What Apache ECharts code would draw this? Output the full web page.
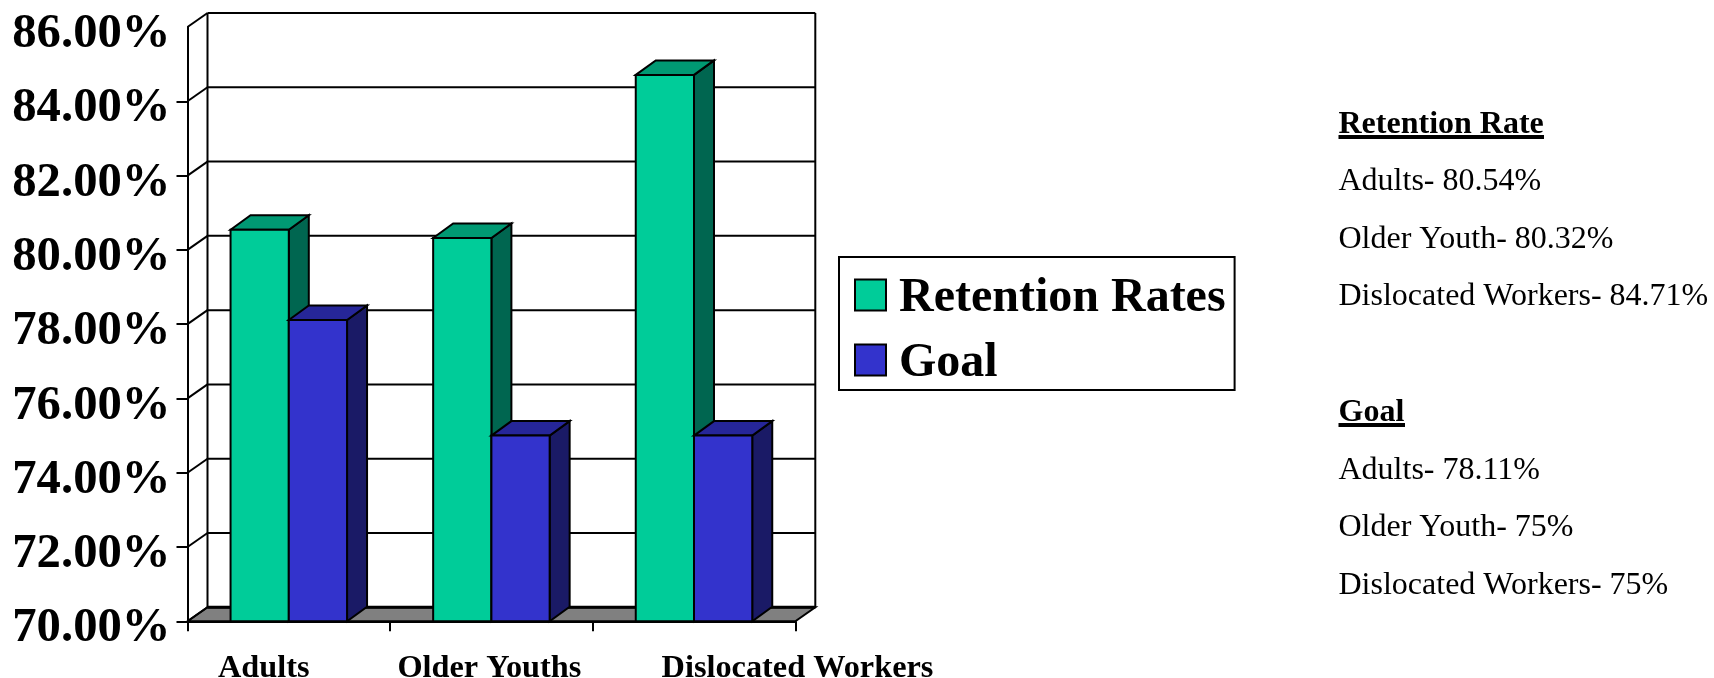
<!DOCTYPE html>
<html><head><meta charset="utf-8">
<style>html,body{margin:0;padding:0;background:#fff}#c{width:1714px;height:678px}</style>
<script src="https://cdn.jsdelivr.net/npm/echarts@6/dist/echarts.min.js"></script>
</head><body><div id="c"></div>
<script>
const categories = ['Adults', 'Older Youths', 'Dislocated Workers'];
const retentionRates = [80.54, 80.32, 84.71];
const goal = [78.11, 75, 75];
const yTicks = [70, 72, 74, 76, 78, 80, 82, 84, 86];
const retentionNotes = ['Adults- 80.54%', 'Older Youth- 80.32%', 'Dislocated Workers- 84.71%'];
const goalNotes = ['Adults- 78.11%', 'Older Youth- 75%', 'Dislocated Workers- 75%'];

const FONT = '"Liberation Serif", "Times New Roman", serif';
const DX = 20, DY = 14.5, WALL_DY = 14, LW = 2;
const BLACK = '#000';

function poly(points, fill) {
  return { type: 'polygon', shape: { points }, style: { fill, stroke: BLACK, lineWidth: LW, lineJoin: 'miter' } };
}
function line(x1, y1, x2, y2, w) {
  return { type: 'line', shape: { x1, y1, x2, y2 }, style: { stroke: BLACK, lineWidth: w || LW } };
}
function barRenderer(side, front, sideFill, topFill) {
  return function (params, api) {
    const i = api.value(0), v = api.value(1);
    const top = api.coord([i, v]), base = api.coord([i, yTicks[0]]);
    const w = api.size([1, 0])[0] * 0.2875;
    const x0 = side === 0 ? top[0] - w : top[0], x1 = x0 + w;
    return { type: 'group', children: [
      poly([[x1, top[1]], [x1 + DX, top[1] - DY], [x1 + DX, base[1] - DY], [x1, base[1]]], sideFill),
      poly([[x0, top[1]], [x0 + DX, top[1] - DY], [x1 + DX, top[1] - DY], [x1, top[1]]], topFill),
      poly([[x0, top[1]], [x1, top[1]], [x1, base[1]], [x0, base[1]]], front)
    ]};
  };
}
function wallRenderer(params, api) {
  const v = api.value(1);
  const y = api.coord([0, v])[1];
  const cs = params.coordSys;
  const L = cs.x, R = cs.x + cs.width, T = cs.y, B = cs.y + cs.height;
  const kids = [line(L, y, L + DX, y - WALL_DY), line(L + DX, y - WALL_DY, R + DX, y - WALL_DY)];
  if (v === yTicks[0]) {
    kids.unshift(poly([[L, B], [L + DX, B - WALL_DY], [R + DX, B - WALL_DY], [R, B]], '#808080'));
    kids.push(line(L + DX, T - WALL_DY, L + DX, B - WALL_DY), line(R + DX, T - WALL_DY, R + DX, B - WALL_DY), line(L + DX, B - WALL_DY, R + DX, B - WALL_DY, 3));
  }
  return { type: 'group', children: kids };
}
function noteText(x, y, text, bold) {
  return { type: 'text', left: x, top: y, silent: true,
    style: { text, fill: BLACK, font: (bold ? 'bold ' : '') + '32px ' + FONT } };
}
const NOTE_X = 1338.5;
const noteItems = [
  noteText(NOTE_X, 108.5, 'Retention Rate', true),
  { type: 'rect', left: NOTE_X, top: 135, shape: { width: 205.5, height: 4 }, style: { fill: BLACK } },
  noteText(NOTE_X, 165.5, retentionNotes[0]),
  noteText(NOTE_X, 223.5, retentionNotes[1]),
  noteText(NOTE_X, 280.5, retentionNotes[2]),
  noteText(NOTE_X, 396.5, 'Goal', true),
  { type: 'rect', left: NOTE_X, top: 423, shape: { width: 66.5, height: 4 }, style: { fill: BLACK } },
  noteText(NOTE_X, 454.5, goalNotes[0]),
  noteText(NOTE_X, 511.5, goalNotes[1]),
  noteText(NOTE_X, 569.5, goalNotes[2])
];
const catBase = { fontFamily: FONT, fontWeight: 'bold', fontSize: 32.3, color: BLACK };
const catRich = {
  a: Object.assign({}, catBase, { padding: [0, 50, 0, 0] }),
  b: Object.assign({}, catBase, { padding: [0, 4, 0, 0] }),
  c: Object.assign({}, catBase, { padding: [0, 0, 0, 207] })
};
const chart = echarts.init(document.getElementById('c'), null, { renderer: 'canvas' });
chart.setOption({
  animation: false,
  backgroundColor: '#fff',
  grid: { left: 187.5, top: 27, width: 607.8, height: 594.3, containLabel: false, outerBoundsMode: 'none' },
  legend: {
    left: 839, top: 257, orient: 'vertical', selectedMode: false,
    padding: [18, 9, 2, 15], itemGap: 17, itemWidth: 31, itemHeight: 31,
    borderColor: BLACK, borderWidth: 2, backgroundColor: '#fff',
    formatter: name => '{t|' + name + '}',
    textStyle: { rich: { t: { fontFamily: FONT, fontWeight: 'bold', fontSize: 48, color: BLACK, padding: [8, 0, 0, 8] } } },
    data: [
      { name: 'Retention Rates', icon: 'rect', itemStyle: { color: '#00CC99', borderColor: BLACK, borderWidth: 2 } },
      { name: 'Goal', icon: 'rect', itemStyle: { color: '#3333CC', borderColor: BLACK, borderWidth: 2 } }
    ]
  },
  xAxis: {
    type: 'category', data: categories, boundaryGap: true,
    axisLine: { show: true, lineStyle: { color: BLACK, width: 2 } },
    axisTick: { show: true, length: 10, alignWithLabel: false, lineStyle: { color: BLACK, width: 2 } },
    splitLine: { show: false },
    axisLabel: { interval: 0, margin: 31, hideOverlap: false,
      formatter: (v, i) => '{' + 'abc'[i] + '|' + v + '}', rich: catRich }
  },
  yAxis: {
    type: 'value', min: 70, max: 86, interval: 2,
    axisLine: { show: true, lineStyle: { color: BLACK, width: 2 } },
    axisTick: { show: true, length: 11, customValues: yTicks.slice(0, -1), lineStyle: { color: BLACK, width: 2 } },
    splitLine: { show: false },
    axisLabel: { margin: 17, fontFamily: FONT, fontWeight: 'bold', fontSize: 48.7, color: BLACK,
      verticalAlign: 'top', lineHeight: 15, formatter: v => v.toFixed(2) + '%' }
  },
  series: [
    { type: 'custom', name: 'wall', silent: true, clip: false, z: 1,
      data: yTicks.map(t => [0, t]), encode: { x: 0, y: 1 }, renderItem: wallRenderer },
    { type: 'custom', name: 'Retention Rates', clip: false, z: 2,
      itemStyle: { color: '#00CC99' },
      data: retentionRates.map((v, i) => [i, v]), encode: { x: 0, y: 1 },
      renderItem: barRenderer(0, '#00CC99', '#006650', '#009973') },
    { type: 'custom', name: 'Goal', clip: false, z: 3,
      itemStyle: { color: '#3333CC' },
      data: goal.map((v, i) => [i, v]), encode: { x: 0, y: 1 },
      renderItem: barRenderer(1, '#3333CC', '#1A1A66', '#262699') }
  ],
  graphic: { elements: noteItems }
});
</script></body></html>
